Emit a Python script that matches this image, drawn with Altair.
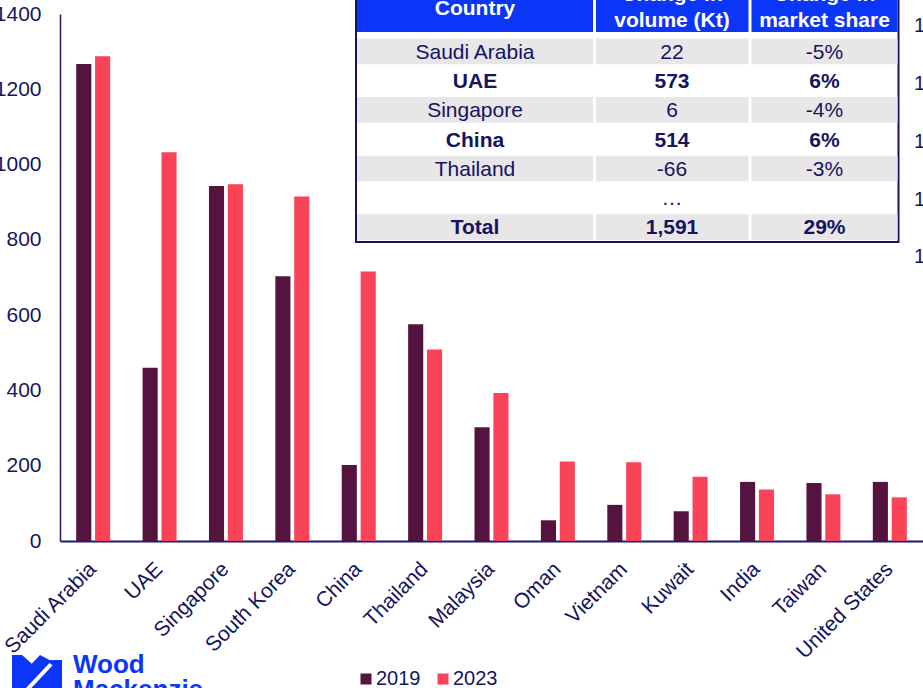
import altair as alt
import pandas as pd

# ---------------- data ----------------
countries = ["Saudi Arabia", "UAE", "Singapore", "South Korea", "China", "Thailand",
             "Malaysia", "Oman", "Vietnam", "Kuwait", "India", "Taiwan", "United States"]
years = ["2019", "2023"]
vol_2019 = [1267, 460, 943, 703, 202, 576, 302, 55, 96, 79, 157, 154, 157]
vol_2023 = [1288, 1033, 948, 915, 716, 509, 393, 211, 209, 171, 137, 124, 116]
y_ticks = [0, 200, 400, 600, 800, 1000, 1200, 1400]

tbl_header = [["Country"], ["Change in", "volume (Kt)"], ["Change in", "market share"]]
tbl_country = ["Saudi Arabia", "UAE", "Singapore", "China", "Thailand", "", "Total"]
tbl_volume = ["22", "573", "6", "514", "-66", "…", "1,591"]
tbl_share = ["-5%", "6%", "-4%", "6%", "-3%", "", "29%"]
tbl_bold = [False, True, False, True, False, False, True]

edge_labels = ["1", "1", "1", "1", "1"]
logo_lines = ["Wood", "Mackenzie"]

# ---------------- style / layout ----------------
FONT = "Liberation Sans"
NAVY = "#14145F"
AXIS = "#1B1B6E"
C19 = "#55143F"
C23 = "#F94357"
BLUE = "#0B36F8"
GREY = "#E8E6E7"
W, H = 863, 527
PAD = {"left": 60, "top": 14, "right": 0, "bottom": 147}

one = pd.DataFrame({"k": [0]})

# ---------------- bars ----------------
bars_df = pd.DataFrame({
    "country": countries * 2,
    "year": [years[0]] * len(countries) + [years[1]] * len(countries),
    "value": vol_2019 + vol_2023,
})

bars = alt.Chart(bars_df).mark_bar().encode(
    x=alt.X("country:N", sort=countries,
            scale=alt.Scale(paddingInner=0.488, paddingOuter=0.244),
            axis=alt.Axis(title=None, labelAngle=-45, labelAlign="right", labelBaseline="top",
                          labelFontSize=21, labelColor=NAVY, labelFont=FONT, labelPadding=17,
                          labelOffset=-8, ticks=False, domainColor=AXIS, domainWidth=2,
                          labelOverlap=False)),
    xOffset=alt.XOffset("year:N", sort=years, scale=alt.Scale(paddingInner=0.2, paddingOuter=0)),
    y=alt.Y("value:Q", scale=alt.Scale(domain=[0, 1400], nice=False),
            axis=alt.Axis(title=None, values=y_ticks, format="d", grid=False, ticks=False,
                          labelPadding=19, labelFontSize=21, labelColor=NAVY, labelFont=FONT,
                          domainColor=AXIS, domainWidth=1.5, labelOverlap=False)),
    color=alt.Color("year:N", sort=years,
                    scale=alt.Scale(domain=years, range=[C19, C23]),
                    legend=alt.Legend(title=None, orient="none", legendX=296, legendY=655,
                                      direction="horizontal", symbolType="square", symbolSize=121,
                                      symbolStrokeWidth=0, labelFontSize=20, labelColor=NAVY,
                                      labelFont=FONT, labelOffset=0, columnPadding=12, padding=0)),
)

# ---------------- table ----------------
n = len(tbl_country)
tbl = pd.DataFrame({"row": list(range(n)), "country": tbl_country, "volume": tbl_volume,
                    "share": tbl_share, "bold": tbl_bold})
tbl["r0"] = tbl["row"]
tbl["r1"] = tbl["row"] + 1
tbl["mid"] = tbl["row"] + 0.5
tbl["shade"] = tbl["row"] % 2 == 0

ts = alt.Scale(domain=[0, n], range=[36 - 14, 241 - 14], nice=False, zero=False)
cols = [(297, 533, 415), (536, 688.5, 612), (691.5, 837.5, 764.5)]  # left, right, center (plot px)
fields = ["country", "volume", "share"]

layers = [bars]

# white background + border
layers.append(alt.Chart(one).mark_rect(fill="white", stroke=NAVY, strokeWidth=2).encode(
    x=alt.value(296), x2=alt.value(838.5), y=alt.value(-40), y2=alt.value(228)))

for ci, (x0, x1, xc) in enumerate(cols):
    # grey cells
    layers.append(alt.Chart(tbl).transform_filter("datum.shade").mark_rect(
        color=GREY, yOffset=2.5, y2Offset=-1).encode(
        x=alt.value(x0), x2=alt.value(x1),
        y=alt.Y("r0:Q", scale=ts, axis=None), y2="r1:Q"))
    # header cell
    layers.append(alt.Chart(one).mark_rect(color=BLUE).encode(
        x=alt.value(x0), x2=alt.value(x1), y=alt.value(-40), y2=alt.value(18)))
    # header text
    hl = tbl_header[ci]
    ys = [-5.5] if len(hl) == 1 else [-19, 7]
    for txt, yy in zip(hl, ys):
        layers.append(alt.Chart(one).mark_text(
            text=txt, font=FONT, fontSize=21, fontWeight="bold", color="white",
            align="center", baseline="middle").encode(x=alt.value(xc), y=alt.value(yy)))
    # cell text (normal and bold)
    for isbold in (False, True):
        flt = "datum.bold" if isbold else "!datum.bold"
        layers.append(alt.Chart(tbl).transform_filter(flt).mark_text(
            font=FONT, fontSize=21, fontWeight="bold" if isbold else "normal", color=NAVY,
            align="center", baseline="middle", dy=2).encode(
            x=alt.value(xc), y=alt.Y("mid:Q", scale=ts, axis=None),
            text=alt.Text(f"{fields[ci]}:N")))

# ---------------- clipped edge labels (right) ----------------
for lab, yy in zip(edge_labels, [12, 70, 128, 186, 243]):
    layers.append(alt.Chart(one).mark_text(
        text=lab, font=FONT, fontSize=20, color=NAVY, align="left", baseline="middle").encode(
        x=alt.value(854), y=alt.value(yy)))

# ---------------- logo ----------------
icon = "M -1 -0.68 L -0.6 -0.68 L -0.21 -0.33 L 0.12 -0.68 L 0.5 -0.48 L 1 -0.48 L 1 1.2 L -1 1.2 Z"
stripe = "M 0.5 -0.36 L 0.62 -0.26 L -0.38 0.8 L -0.5 0.7 Z"
layers.append(alt.Chart(one).mark_point(shape=icon, filled=True, color=BLUE, opacity=1,
                                        strokeWidth=0, size=2500).encode(
    x=alt.value(-23), y=alt.value(658)))
layers.append(alt.Chart(one).mark_point(shape=stripe, filled=True, color="white", opacity=1,
                                        strokeWidth=0, size=2500).encode(
    x=alt.value(-23), y=alt.value(658)))
for txt, yy in zip(logo_lines, [659, 684]):
    layers.append(alt.Chart(one).mark_text(
        text=txt, font=FONT, fontSize=26, fontWeight="bold", color=BLUE,
        align="left", baseline="alphabetic").encode(x=alt.value(13), y=alt.value(yy)))

chart = alt.layer(*layers).resolve_scale(y="independent").properties(
    width=W, height=H, padding=PAD,
    autosize=alt.AutoSizeParams(type="none"),
).configure_view(stroke=None)

chart.save("out.html", embed_options={"renderer": "svg", "actions": False})
